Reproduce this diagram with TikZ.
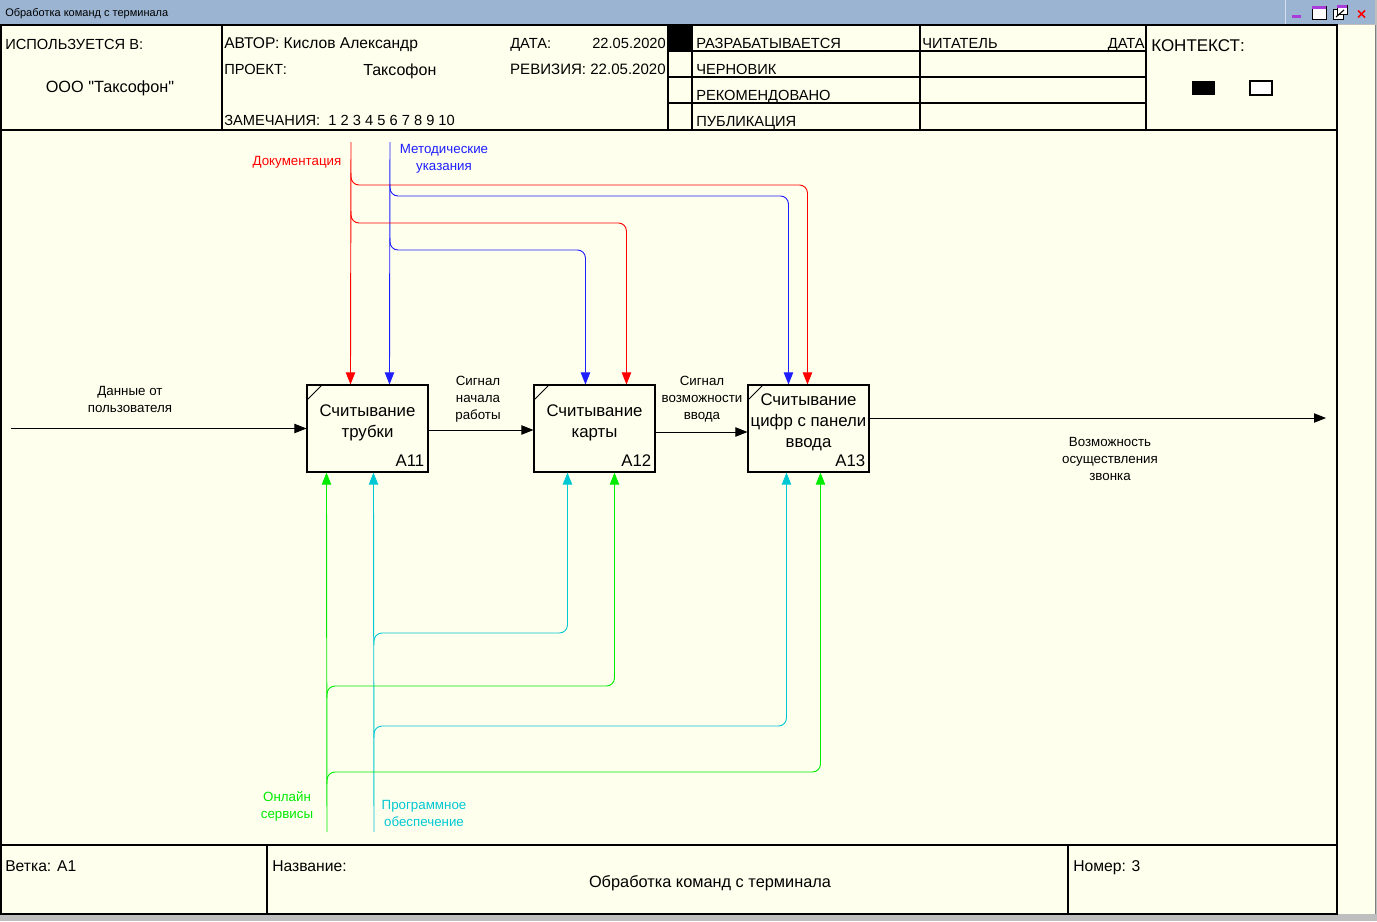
\documentclass[tikz,border=0pt]{standalone}
\usepackage{fontspec}
\setmainfont{Liberation Sans}
\usetikzlibrary{arrows.meta,calc}

\definecolor{paper}{RGB}{255,255,238}
\definecolor{titlebar}{RGB}{154,180,210}
\definecolor{chrome}{RGB}{190,190,190}
\definecolor{ctlred}{RGB}{255,0,0}
\definecolor{ctlblue}{RGB}{30,30,255}
\definecolor{mechgreen}{RGB}{0,235,0}
\definecolor{mechcyan}{RGB}{0,200,210}
\definecolor{btnviolet}{RGB}{170,60,220}

\tikzset{
  hdr/.style={font=\fontsize{11pt}{13pt}\selectfont, inner sep=0, anchor=base west},
  foot/.style={font=\fontsize{11.75pt}{13pt}\selectfont, inner sep=0, anchor=base west},
  lbl/.style={font=\fontsize{10pt}{12.75pt}\selectfont, align=center, inner sep=0},
  func/.style={draw=black, line width=0.8pt, fill=paper, minimum width=90.75pt,
               minimum height=65.25pt, inner sep=0},
  functext/.style={font=\fontsize{12.6pt}{15.75pt}\selectfont, align=center, inner sep=0},
  flow/.style={line width=0.7pt, -{Triangle[length=9pt,width=7pt]}},
  branch/.style={flow, rounded corners=6pt},
  gridline/.style={line width=1pt},
}

\begin{document}
\begin{tikzpicture}[x=0.75pt,y=-0.75pt]
\useasboundingbox (0,0) rectangle (1377,921);

% window chrome
\fill[chrome] (0,0) rectangle (1377,921);
\fill[paper] (0,25) rectangle (1375,914);
\fill[titlebar] (0,0) rectangle (1375,24);
\draw[white!60!titlebar] (1285,0) -- (1285,24);
\draw[gray] (1375,25) -- (1375,914);
\node[anchor=base west, font=\fontsize{8.25pt}{9pt}\selectfont, inner sep=0] (wintitle)
  at (5,16.5) {Обработка команд с терминала};
% window buttons
\fill[btnviolet] (1292,15) rectangle (1301,17.5);
\draw[fill=white, line width=0.6pt] (1312,6) rectangle (1326,19);
\fill[btnviolet] (1312,6) rectangle (1326,9);
\draw[fill=white, line width=0.6pt] (1333,9) rectangle (1343,19);
\draw[fill=white, line width=0.6pt] (1337,5) rectangle (1347,14);
\fill[btnviolet] (1337,5) rectangle (1347,7.5);
\draw[line width=0.8pt] (1336,17) -- (1344,10);
\draw[red, line width=1.1pt] (1358,10.5) -- (1365,17.5) (1358,17.5) -- (1365,10.5);

% frame
\draw[gridline] (1,25) rectangle (1337,914);
\draw[gridline] (1,130) -- (1337,130);
\draw[gridline] (1,845) -- (1337,845);

% header grid
\draw[gridline] (222,25) -- (222,130);
\draw[gridline] (668,25) -- (668,130);
\draw[gridline] (692,25) -- (692,130);
\draw[gridline] (920,25) -- (920,130);
\draw[gridline] (1146,25) -- (1146,130);
\foreach \yy in {51,77,103} \draw[gridline] (668,\yy) -- (1146,\yy);
\fill (668,25) rectangle (692,51);

% header texts
\node[hdr] (usedin) at (5,49) {ИСПОЛЬЗУЕТСЯ В:};
\node[hdr, anchor=base, font=\fontsize{12.2pt}{14pt}\selectfont] (org) at (110,92)
  {ООО \textquotedbl Таксофон\textquotedbl};
\node[hdr, font=\fontsize{11.7pt}{13pt}\selectfont] (author) at (224,48) {АВТОР: Кислов Александр};
\node[hdr] (project) at (224,74) {ПРОЕКТ:};
\node[hdr, font=\fontsize{12pt}{13pt}\selectfont] (projname) at (363,75) {Таксофон};
\node[hdr] (notes) at (224,125) {ЗАМЕЧАНИЯ:\ \ 1 2 3 4 5 6 7 8 9 10};
\node[hdr] (datelbl) at (510,48) {ДАТА:};
\node[hdr, anchor=base east] (dateval) at (666,48) {22.05.2020};
\node[hdr, anchor=base east, font=\fontsize{11.3pt}{13pt}\selectfont] (revision) at (666,74) {РЕВИЗИЯ: 22.05.2020};
\node[hdr] (st1) at (696,48) {РАЗРАБАТЫВАЕТСЯ};
\node[hdr] (st2) at (696,74) {ЧЕРНОВИК};
\node[hdr] (st3) at (696,100) {РЕКОМЕНДОВАНО};
\node[hdr] (st4) at (696,126) {ПУБЛИКАЦИЯ};
\node[hdr] (reader) at (922,48) {ЧИТАТЕЛЬ};
\node[hdr, anchor=base east] (readerdate) at (1145,48) {ДАТА};
\node[hdr, font=\fontsize{12.75pt}{14pt}\selectfont] (context) at (1151,51) {КОНТЕКСТ:};
\fill (1192,81) rectangle (1215,95);
\draw[line width=0.8pt, fill=white] (1250,81) rectangle (1272,95);

% footer
\draw[gridline] (267,845) -- (267,914);
\draw[gridline] (1068,845) -- (1068,914);
\node[foot] (branchno) at (5,871) {Ветка: A1};
\node[foot] (namelbl) at (272,871) {Название:};
\node[foot, anchor=base, font=\fontsize{12.25pt}{14pt}\selectfont] (diagname) at (710,887) {Обработка команд с терминала};
\node[foot] (pageno) at (1073,871) {Номер: 3};

% function blocks
\node[func] (a11) at (367.5,428.5) {};
\node[func] (a12) at (594.5,428.5) {};
\node[func] (a13) at (808.5,428.5) {};
\foreach \b in {a11,a12,a13}
  \draw[line width=0.6pt] ($(\b.north west)+(0,16)$) -- ($(\b.north west)+(16,0)$);
\node[functext] (a11t) at (367.5,422.5) {Считывание\\трубки};
\node[functext] (a12t) at (594.5,422.5) {Считывание\\карты};
\node[functext] (a13t) at (808.5,422) {Считывание\\цифр с панели\\ввода};
\node[functext, anchor=base east] (a11n) at ($(a11.south east)+(-4,-6)$) {A11};
\node[functext, anchor=base east] (a12n) at ($(a12.south east)+(-4,-6)$) {A12};
\node[functext, anchor=base east] (a13n) at ($(a13.south east)+(-4,-6)$) {A13};

% inputs and outputs
\coordinate (insrc) at (11,428.5);
\coordinate (outdst) at (1326,418);
\draw[flow] (insrc) -- (a11.west);
\draw[flow] ($(a11.east)+(0,1.5)$) -- ($(a12.west)+(0,1.5)$);
\draw[flow] ($(a12.east)+(0,3.5)$) -- ($(a13.west)+(0,3.5)$);
\draw[flow] (a13.east |- outdst) -- (outdst);

\node[lbl] (inlbl) at (130,399) {Данные от\\пользователя};
\node[lbl] (s1lbl) at (478,399) {Сигнал\\начала\\работы};
\node[lbl] (s2lbl) at (702,399) {Сигнал\\возможности\\ввода};
\node[lbl] (outlbl) at (1110,459) {Возможность\\осуществления\\звонка};

% controls
\coordinate (docsrc) at (351,142);
\coordinate (metsrc) at (390,142);
\coordinate (a11c1) at ($(a11.north west)+(44,0)$);
\coordinate (a11c2) at ($(a11.north west)+(83,0)$);
\coordinate (a12c1) at ($(a12.north west)+(52,0)$);
\coordinate (a12c2) at ($(a12.north west)+(93,0)$);
\coordinate (a13c1) at ($(a13.north west)+(41,0)$);
\coordinate (a13c2) at ($(a13.north west)+(60,0)$);
\coordinate (rowdoc1) at (0,185);
\coordinate (rowmet1) at (0,196);
\coordinate (rowdoc2) at (0,223);
\coordinate (rowmet2) at (0,250);

\draw[flow, ctlred] (docsrc) -- (a11c1);
\draw[flow, ctlblue] (metsrc) -- (a11c2);
\draw[branch, ctlred] ($(docsrc |- rowdoc1)+(0,-12)$) -- (docsrc |- rowdoc1) -- (a13c2 |- rowdoc1) -- (a13c2);
\draw[branch, ctlblue] ($(metsrc |- rowmet1)+(0,-12)$) -- (metsrc |- rowmet1) -- (a13c1 |- rowmet1) -- (a13c1);
\draw[branch, ctlred] ($(docsrc |- rowdoc2)+(0,-12)$) -- (docsrc |- rowdoc2) -- (a12c2 |- rowdoc2) -- (a12c2);
\draw[branch, ctlblue] ($(metsrc |- rowmet2)+(0,-12)$) -- (metsrc |- rowmet2) -- (a12c1 |- rowmet2) -- (a12c1);

\node[lbl, text=ctlred] (doclbl) at (297,162) {Документация};
\node[lbl, text=ctlblue] (metlbl) at (444,158.5) {Методические\\указания};

% mechanisms
\coordinate (onlsrc) at (327,832);
\coordinate (swsrc) at (374,832);
\coordinate (a11m1) at ($(a11.south west)+(20,0)$);
\coordinate (a11m2) at ($(a11.south west)+(67,0)$);
\coordinate (a12m1) at ($(a12.south west)+(34,0)$);
\coordinate (a12m2) at ($(a12.south west)+(81,0)$);
\coordinate (a13m1) at ($(a13.south west)+(39,0)$);
\coordinate (a13m2) at ($(a13.south west)+(73,0)$);
\coordinate (rowsw1) at (0,633);
\coordinate (rowonl1) at (0,686);
\coordinate (rowsw2) at (0,726);
\coordinate (rowonl2) at (0,772);

\draw[flow, mechgreen] (onlsrc) -- (a11m1);
\draw[flow, mechcyan] (swsrc) -- (a11m2);
\draw[branch, mechcyan] ($(swsrc |- rowsw1)+(0,12)$) -- (swsrc |- rowsw1) -- (a12m1 |- rowsw1) -- (a12m1);
\draw[branch, mechgreen] ($(onlsrc |- rowonl1)+(0,12)$) -- (onlsrc |- rowonl1) -- (a12m2 |- rowonl1) -- (a12m2);
\draw[branch, mechcyan] ($(swsrc |- rowsw2)+(0,12)$) -- (swsrc |- rowsw2) -- (a13m1 |- rowsw2) -- (a13m1);
\draw[branch, mechgreen] ($(onlsrc |- rowonl2)+(0,12)$) -- (onlsrc |- rowonl2) -- (a13m2 |- rowonl2) -- (a13m2);

\node[lbl, text=mechgreen] (onllbl) at (287,806) {Онлайн\\сервисы};
\node[lbl, text=mechcyan] (swlbl) at (424,813) {Программное\\обеспечение};
\end{tikzpicture}
\end{document}
